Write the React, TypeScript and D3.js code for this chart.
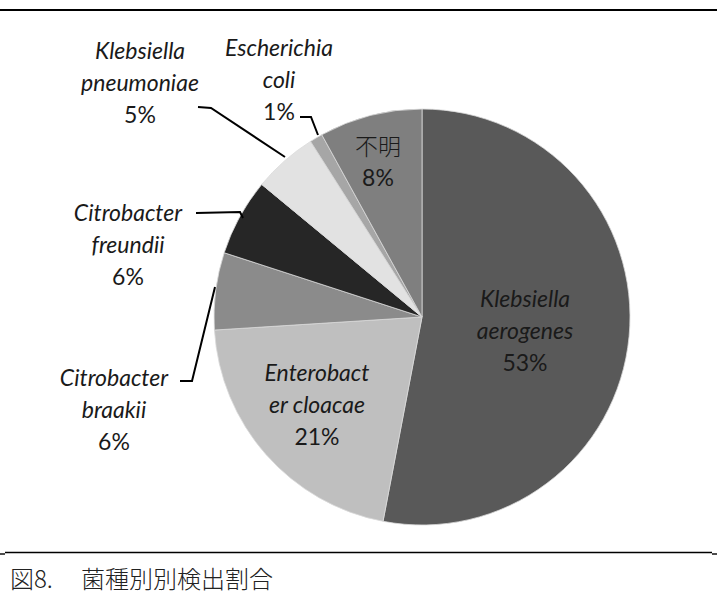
import React from "react";
import * as d3 from "d3";

const categories = [
  "Klebsiella aerogenes",
  "Enterobacter cloacae",
  "Citrobacter braakii",
  "Citrobacter freundii",
  "Klebsiella pneumoniae",
  "Escherichia coli",
  "不明",
];
const values = [53, 21, 6, 6, 5, 1, 8];
const percentLabels = ["53%", "21%", "6%", "6%", "5%", "1%", "8%"];
const labelLines = [
  ["Klebsiella", "aerogenes"],
  ["Enterobact", "er cloacae"],
  ["Citrobacter", "braakii"],
  ["Citrobacter", "freundii"],
  ["Klebsiella", "pneumoniae"],
  ["Escherichia", "coli"],
  ["不明"],
];
const colors = ["#595959", "#bfbfbf", "#8b8b8b", "#262626", "#e2e2e2", "#a6a6a6", "#7f7f7f"];
const captionPrefix = "図8.";
const captionText = "菌種別別検出割合";

// label anchor positions (center x, first line center y)
const labelPos: [number, number][] = [
  [525, 298],
  [317, 372],
  [114, 377],
  [128, 212],
  [140, 50],
  [279, 47],
  [378, 145],
];
// leader lines (label side -> slice)
const leaders: ([number, number][] | null)[] = [
  null,
  null,
  [[180, 381], [192, 381], [215, 287]],
  [[196, 213], [240, 212], [243, 218]],
  [[198, 107], [211, 108], [285, 157]],
  [[300, 117], [311, 117], [318, 135]],
  null,
];

export default function App() {
  const W = 717, H = 610;
  const cx = 422, cy = 317, r = 208;
  const pie = d3.pie<number>().sort(null).value((d) => d).startAngle(0).endAngle(2 * Math.PI);
  const arcs = pie(values);
  const arc = d3.arc<d3.PieArcDatum<number>>().innerRadius(0).outerRadius(r);
  const lh = 32;
  const italic = (i: number) => i !== 6;
  return (
    <svg width={W} height={H} style={{ position: "absolute", left: 0, top: 0, background: "#fff" }}>
      <line x1={0} x2={W} y1={10} y2={10} stroke="#000" strokeWidth={2.2} />
      <g transform={`translate(${cx},${cy})`}>
        {arcs.map((a, i) => (
          <path key={categories[i]} d={arc(a) || ""} fill={colors[i]} stroke="#d9d9d9" strokeWidth={0.8} />
        ))}
      </g>
      {leaders.map((pts, i) =>
        pts ? (
          <path key={"l" + i} d={d3.line()(pts) || ""} fill="none" stroke="#000" strokeWidth={2} />
        ) : null
      )}
      {labelLines.map((lines, i) => {
        const [x, y] = labelPos[i];
        const all = [...lines, percentLabels[i]];
        return (
          <g key={"t" + i}>
            {all.map((t, k) => {
              const cjk = i === 6 && k === 0;
              return (
                <text
                  key={k}
                  x={x}
                  y={y + k * lh}
                  textAnchor="middle"
                  dominantBaseline="central"
                  fontFamily={cjk ? "'Noto Sans CJK JP'" : "Lato, 'Open Sans', sans-serif"}
                  fontStyle={italic(i) && k < all.length - 1 ? "italic" : "normal"}
                  fontSize={cjk ? 23 : 23}
                  fontWeight={cjk ? 300 : 400}
                  fill="#1a1a1a"
                >
                  {t}
                </text>
              );
            })}
          </g>
        );
      })}
      <line x1={5} x2={712} y1={552.5} y2={552.5} stroke="#000" strokeWidth={1.4} />
      <line x1={0} x2={5} y1={554} y2={554} stroke="#000" strokeWidth={1.4} />
      <line x1={712} x2={717} y1={554} y2={554} stroke="#000" strokeWidth={1.4} />
      <text x={10} y={588} fontFamily="'Noto Sans CJK JP'" fontWeight={300} fontSize={24} fill="#222">
        {captionPrefix}
      </text>
      <text x={81} y={588} fontFamily="'Noto Sans CJK JP'" fontWeight={300} fontSize={24} fill="#222">
        {captionText}
      </text>
    </svg>
  );
}
